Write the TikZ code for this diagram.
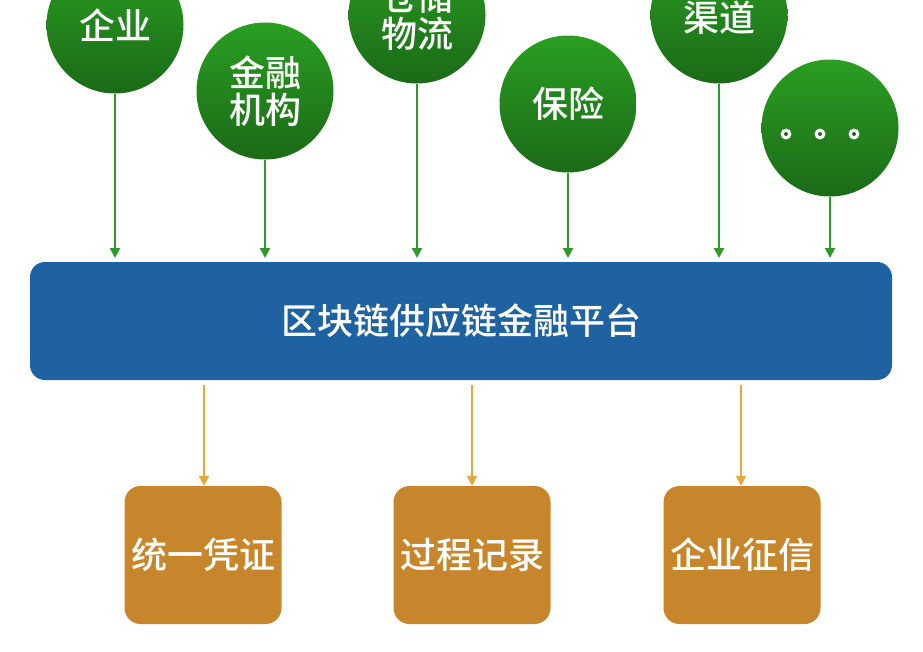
\documentclass[tikz,border=0pt]{standalone}
\usepackage{fontspec}
\setmainfont{Noto Sans CJK SC}[BoldFont={Noto Sans CJK SC Medium}]
\usetikzlibrary{arrows.meta,calc}
\definecolor{gtop}{HTML}{2A9E22}
\definecolor{gbot}{HTML}{1B6A17}
\definecolor{garrow}{HTML}{2E9A2A}
\definecolor{pblue}{HTML}{1F62A2}
\definecolor{boxor}{HTML}{C8862C}
\definecolor{oarrow}{HTML}{E5A83C}
\tikzset{
  lbl/.style={text=white,font=\fontsize{36}{37}\selectfont\bfseries},
  ball/.style={circle,minimum size=137pt,inner sep=0pt,top color=gtop,bottom color=gbot,draw=none,
    lbl,align=center},
  outbox/.style={rectangle,rounded corners=16pt,minimum width=157pt,minimum height=138pt,fill=boxor,lbl},
  garr/.style={draw=garrow,line width=2pt,-{Triangle[length=10pt,width=10pt]}},
  oarr/.style={draw=oarrow,line width=2pt,-{Triangle[length=10pt,width=10pt]}},
}
\begin{document}
\begin{tikzpicture}[x=1pt,y=-1pt]
\useasboundingbox (0,0) rectangle (923,651);
\begin{scope}
\clip (0,0) rectangle (923,651);
\node[ball] (c1) at (115,25) {企业};
\node[ball] (c2) at (265,91) {金融\\机构};
\node[ball] (c3) at (417,15) {仓储\\物流};
\node[ball] (c4) at (568,104) {保险};
\node[ball] (c5) at (719,15) {};
\node[lbl,inner sep=0pt] (t5) at (719,18) {渠道};
\node[ball] (c6) at (830,128) {};
\end{scope}
\foreach \dx in {-44,-10,24}{
  \fill[white] ($(c6.center)+(\dx,6)$) circle (5.5pt);
  \fill[gbot] ($(c6.center)+(\dx,6)$) circle (2pt);
}
\node[rectangle,rounded corners=15pt,minimum width=862pt,minimum height=118pt,fill=pblue,lbl]
  (plat) at (461,321) {区块链供应链金融平台};
\node[outbox] (b1) at (203,555) {统一凭证};
\node[outbox] (b2) at (472,555) {过程记录};
\node[outbox] (b3) at (742,555) {企业征信};
\foreach \c in {c1,c2,c3,c4,c5,c6}{
  \draw[garr] (\c.south) -- (\c.south |- 0,258);
}
\coordinate (p1) at (204,385);
\coordinate (p2) at (472,385);
\coordinate (p3) at (741,385);
\draw[oarr] (p1) -- (p1 |- b1.north);
\draw[oarr] (p2) -- (p2 |- b2.north);
\draw[oarr] (p3) -- (p3 |- b3.north);
\end{tikzpicture}
\end{document}
